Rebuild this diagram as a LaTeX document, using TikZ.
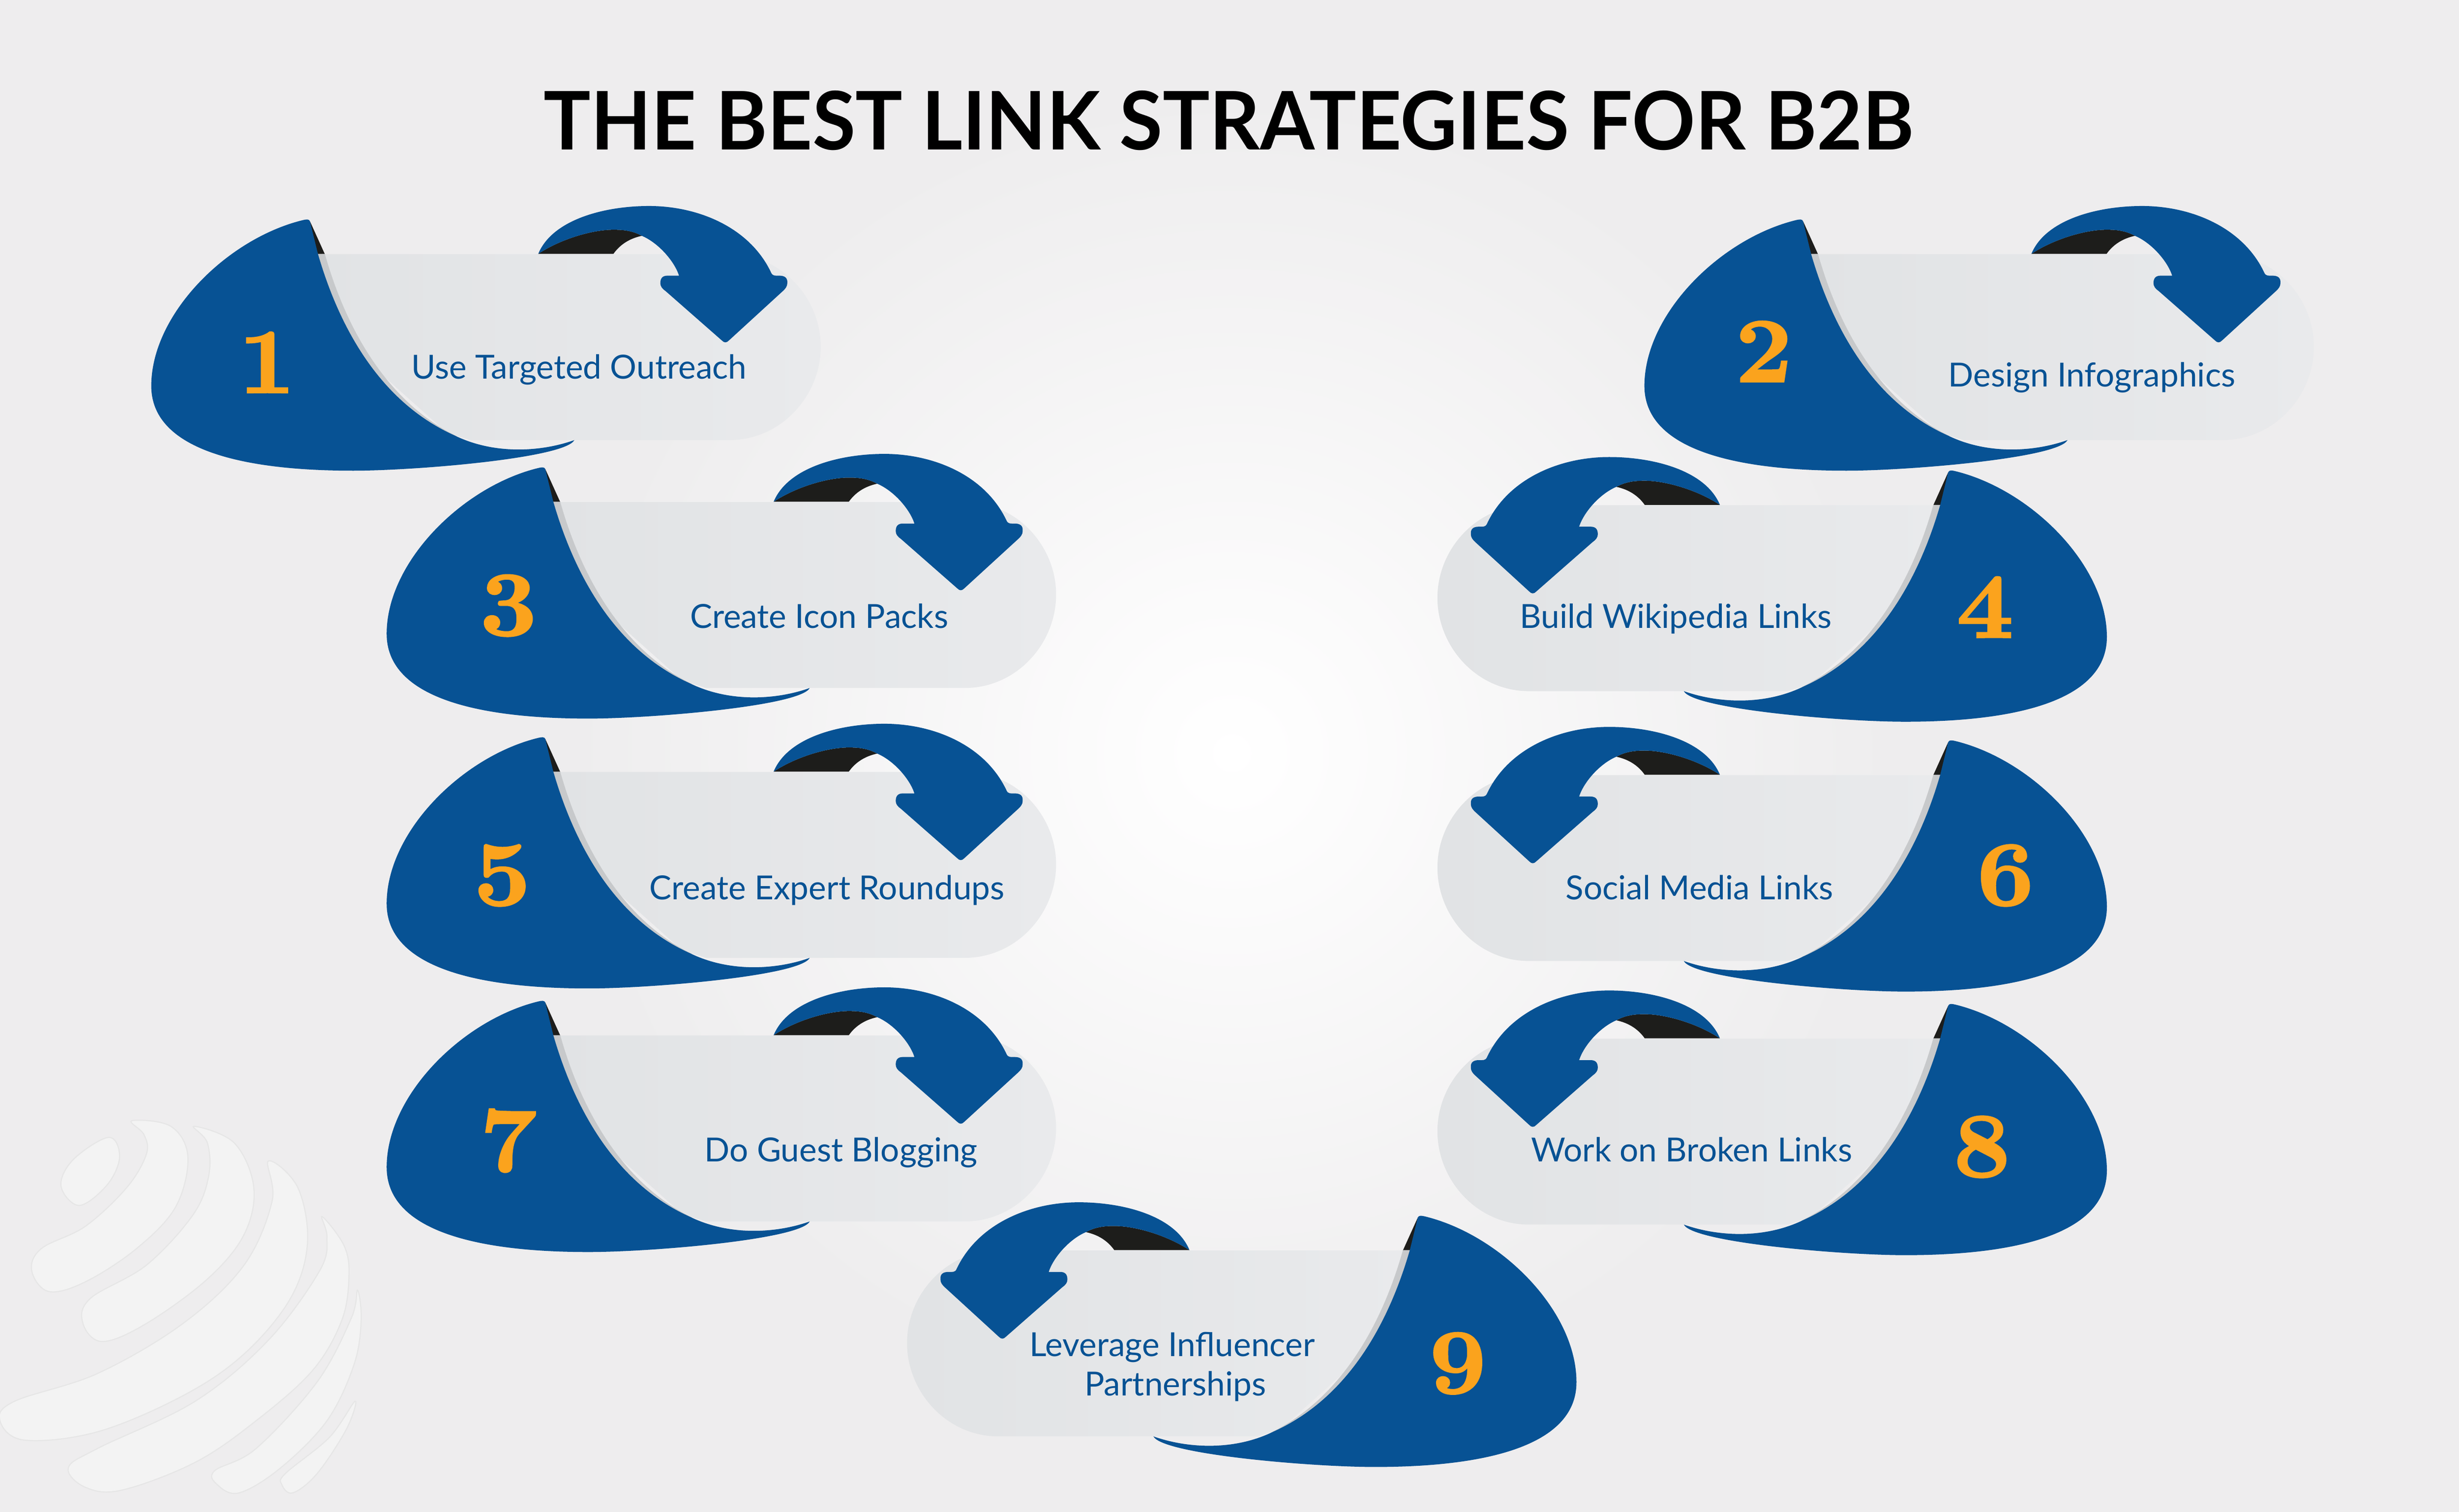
\documentclass[tikz,border=0pt]{standalone}
\usepackage{fontspec}
\setmainfont{Lato}
\newfontfamily\titlefont[FakeStretch=0.972]{Lato}
\newfontfamily\numfont[FakeStretch=1.1,BoldFeatures={FakeBold=2.5}]{Latin Modern Roman}
\usepackage{tikz}
\definecolor{bgc}{HTML}{EEEDEE}
\definecolor{cardblue}{HTML}{075294}
\definecolor{cardgrey}{HTML}{E1E3E5}
\definecolor{cardlight}{HTML}{E9EAEC}
\definecolor{cardshade}{HTML}{C7C9CB}
\definecolor{cardblack}{HTML}{1D1D1B}
\definecolor{numorange}{HTML}{FBA31D}
\definecolor{globefill}{HTML}{F3F3F3}
\definecolor{globeline}{HTML}{E6E6E6}
\pgfdeclareradialshading{bgglow}{\pgfpoint{0bp}{0bp}}{color(0bp)=(white); color(25bp)=(bgc); color(50bp)=(bgc)}
\tikzset{
  labeltext/.style={text=cardblue,anchor=base,font=\fontsize{21.15}{25.3}\selectfont},
  numtext/.style={text=numorange,font=\numfont\bfseries\fontsize{58}{58}\selectfont},
  globepart/.style={fill=globefill,draw=globeline,line width=.7pt}
}
\newcommand{\cardshape}{
  \fill[cardblack] (197.5,141) -- (207,162) -- (202,162) -- cycle;
  \fill[cardblack] (343,161.8) .. controls (358,152) and (378,146.4) .. (391,146.4) .. controls (397,146.4) and (403,147) .. (409,150.3) .. controls (401,152) and (395,156) .. (390.9,161.8) -- cycle;
  \shade[left color=cardgrey,right color=cardlight] (205,162) -- (464.7,162) .. controls (498,162) and (523,190) .. (523,221) .. controls (523,252) and (498,280.5) .. (464.7,280.5) -- (300,280.5) -- (285,276) -- (200,200) -- cycle;
  \fill[cardshade] (202,161.8) -- (207,161.8) .. controls (222,215) and (250,258) .. (291,278) -- (200,285) -- (190,162) -- cycle;
  \fill[cardblue] (193,140.3) .. controls (145,152) and (96.4,200) .. (96.4,246) .. controls (96.4,285) and (150,300) .. (225,300) .. controls (265,300) and (360,292) .. (366,280.5) .. controls (345,288) and (315,290) .. (289.6,277.5) .. controls (246,258) and (218,215) .. (202.6,161.8) -- (197.5,141) .. controls (197,139.5) and (195,139.8) .. (193,140.3) -- cycle;
  \fill[cardblue] (343,161.8) .. controls (352,140) and (385,131.3) .. (413.6,131.3) .. controls (445,131.3) and (478,145) .. (491.5,174) .. controls (492.5,176) and (494,175.7) .. (496.6,175.7) .. controls (500,175.7) and (502,177) .. (501.7,180.5) .. controls (501.7,182.5) and (500.5,184) .. (499,185.4) -- (464.5,217) .. controls (463,218.6) and (461.5,218.6) .. (460,217) -- (424,185.4) .. controls (422,184) and (420.8,182.5) .. (420.8,180.5) .. controls (420.8,177) and (422.5,175.7) .. (425.4,175.7) -- (432.7,175.7) .. controls (430,167) and (420,155) .. (409,150.3) .. controls (403,147) and (397,146.4) .. (391,146.4) .. controls (378,146.4) and (358,152) .. (343,161.8) -- cycle;
}
\begin{document}
\begin{tikzpicture}[x=1pt,y=-1pt]
  \useasboundingbox (0,0) rectangle (1567,963.55);
  \fill[bgc] (0,0) rectangle (1567,963.55);
  \shade[shading=bgglow] (785,480) circle (420pt);
  \begin{scope}[shift={(0,686)},x=.1555pt,y=-.177pt]
    \draw[globepart] plot[smooth cycle,tension=.6] coordinates {(445,220) (490,290) (440,390) (325,465) (250,395) (300,300)};
    \draw[globepart] plot[smooth cycle,tension=.6] coordinates {(540,160) (700,180) (770,290) (720,470) (560,620) (350,740) (200,775) (130,700) (170,620) (350,540) (520,400) (600,280) (590,210)};
    \draw[globepart] plot[smooth cycle,tension=.6] coordinates {(795,180) (960,240) (1040,400) (1000,570) (850,730) (600,890) (420,955) (340,890) (370,800) (600,680) (790,500) (855,360) (850,240)};
    \draw[globepart] plot[smooth cycle,tension=.6] coordinates {(1100,305) (1220,400) (1260,600) (1190,800) (1000,1000) (750,1150) (400,1280) (100,1310) (0,1240) (60,1170) (400,1070) (750,890) (1000,680) (1115,450)};
    \draw[globepart] plot[smooth cycle,tension=.6] coordinates {(1320,505) (1410,610) (1430,720) (1400,880) (1280,1060) (1050,1240) (800,1390) (500,1490) (350,1480) (280,1410) (400,1340) (800,1170) (1100,950) (1310,700) (1340,580)};
    \draw[globepart] plot[smooth cycle,tension=.6] coordinates {(1465,770) (1480,880) (1450,1040) (1340,1240) (1150,1410) (980,1500) (890,1470) (880,1420) (1050,1340) (1300,1100) (1440,870)};
    \draw[globepart] plot[smooth cycle,tension=.6] coordinates {(1455,1170) (1420,1270) (1300,1430) (1200,1500) (1155,1470) (1170,1430) (1350,1300)};
  \end{scope}
  \node[font=\titlefont\bfseries\fontsize{51.5}{51.5}\selectfont,anchor=base] (title) at (783,95.3) {THE BEST LINK STRATEGIES FOR B2B};
  % left hand cards
  \foreach \dx/\dy in {0/0,951.5/0,150/158,150/330,150/498}{
    \begin{scope}[shift={(\dx,\dy)}]
      \cardshape
    \end{scope}
  }
  % right hand cards
  \foreach \mx/\dy in {1439/160,1439/332,1439/500,1101/635}{
    \begin{scope}[shift={(\mx,\dy)},xscale=-1]
      \cardshape
    \end{scope}
  }
  \node[numtext] (num1) at (170,231) {1};
  \node[numtext] (num2) at (1124,224) {2};
  \node[numtext] (num3) at (324,386) {3};
  \node[numtext] (num4) at (1265,387) {4};
  \node[numtext] (num5) at (320,558) {5};
  \node[numtext] (num6) at (1278,558) {6};
  \node[numtext] (num7) at (324,727) {7};
  \node[numtext] (num8) at (1263,731) {8};
  \node[numtext] (num9) at (929,869) {9};
  \node[labeltext] (lab1) at (369,241.5) {Use Targeted Outreach};
  \node[labeltext] (lab2) at (1333,246.5) {Design Infographics};
  \node[labeltext] (lab3) at (522,400.5) {Create Icon Packs};
  \node[labeltext] (lab4) at (1068,400.5) {Build Wikipedia Links};
  \node[labeltext] (lab5) at (527,573.5) {Create Expert Roundups};
  \node[labeltext] (lab6) at (1083,573.5) {Social Media Links};
  \node[labeltext] (lab7) at (536,740.5) {Do Guest Blogging};
  \node[labeltext] (lab8) at (1078,740.5) {Work on Broken Links};
  \node[labeltext] (lab9a) at (747,864.4) {Leverage Influencer};
  \node[labeltext] (lab9b) at (749,889.7) {Partnerships};
\end{tikzpicture}
\end{document}
